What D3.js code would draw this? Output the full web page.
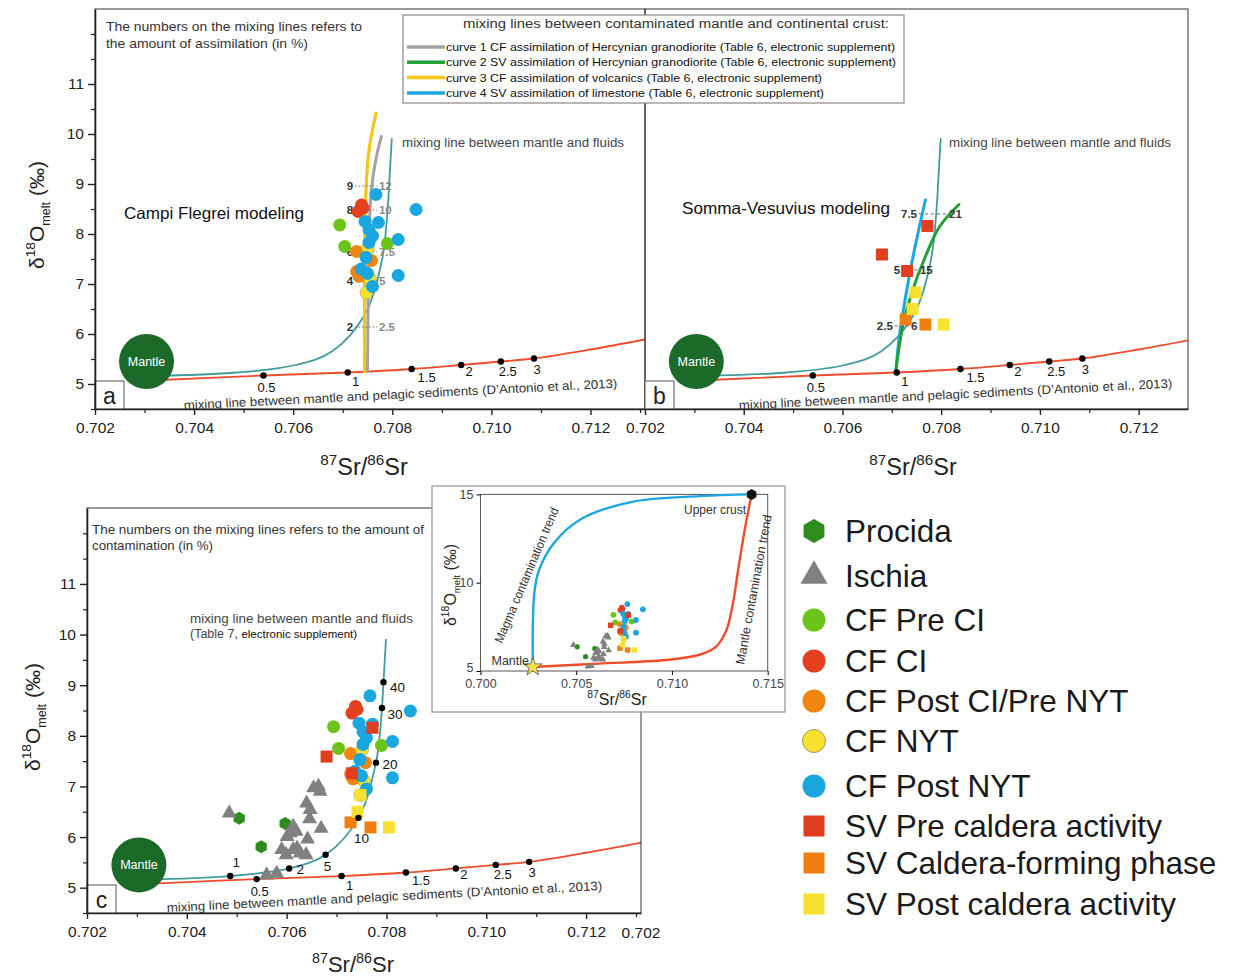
<!DOCTYPE html>
<html>
<head>
<meta charset="utf-8">
<script src="https://cdn.jsdelivr.net/npm/d3@7"></script>
<style>
  body { margin: 0; background: #fff; }
  svg { display: block; font-family: "Liberation Sans", Arial, Helvetica, sans-serif; }
</style>
</head>
<body>
<svg id="fig" width="1236" height="980"></svg>
<script>
// ---------------- data (87Sr/86Sr, δ18O melt ‰) ----------------
const procida = [[0.70505, 6.37], [0.70597, 6.27], [0.70549, 5.81]];
const ischia = [[0.70485, 6.47], [0.70654, 6.97], [0.70664, 7.00], [0.70667, 6.90], [0.70640, 6.67],
  [0.70647, 6.54], [0.70646, 6.36], [0.70669, 6.17], [0.70613, 6.21], [0.70619, 6.11], [0.70607, 6.08],
  [0.70601, 6.01], [0.70642, 5.96], [0.70590, 5.75], [0.70613, 5.75], [0.70621, 5.78], [0.70627, 5.68],
  [0.70639, 5.65], [0.70599, 5.65], [0.70560, 5.25], [0.70580, 5.28]];
const cfPreCI = [[0.70694, 8.18], [0.70704, 7.75], [0.70790, 7.81]];
const cfCI = [[0.70738, 8.58], [0.70731, 8.45], [0.70741, 8.52]];
const cfPostCIPreNYT = [[0.70728, 7.65], [0.70758, 7.47], [0.70728, 7.25], [0.70733, 7.15]];
const cfNYT = [[0.70751, 7.72], [0.70755, 7.11], [0.70748, 6.83]];
const cfPostNYT = [[0.70767, 8.79], [0.70848, 8.49], [0.70745, 8.25], [0.70772, 8.23], [0.70753, 8.08],
  [0.70760, 7.96], [0.70753, 7.83], [0.70812, 7.89], [0.70747, 7.53], [0.70737, 7.30], [0.70750, 7.21],
  [0.70812, 7.17], [0.70760, 6.95]];
const svPreCaldera = [[0.70772, 8.16], [0.70680, 7.59], [0.70731, 7.26]];
const svCalderaForming = [[0.70728, 6.29], [0.70768, 6.19]];
const svPostCaldera = [[0.70748, 6.83], [0.70742, 6.50], [0.70805, 6.19]];

// mantle end-member
const mantle = [0.70304, 5.45];

// mixing line mantle – pelagic sediments, with % marks
const pelagicCurve = [[0.7031, 5.07], [0.70540, 5.17], [0.70710, 5.23], [0.70839, 5.30], [0.70939, 5.38],
  [0.71019, 5.45], [0.71086, 5.51], [0.7120, 5.69], [0.7131, 5.89]];
const pelagicMarks = [[0.70540, 5.17], [0.70710, 5.23], [0.70839, 5.30], [0.70939, 5.38], [0.71019, 5.45], [0.71086, 5.51]];
const pelagicLabels = ["0.5", "1", "1.5", "2", "2.5", "3"];

// mixing line mantle – fluids, with % marks
const fluidCurve = [[0.7031, 5.16], [0.70487, 5.23], [0.70605, 5.38], [0.70678, 5.65], [0.70744, 6.38],
  [0.70779, 7.47], [0.70791, 8.55], [0.70794, 9.06], [0.70799, 9.9]];
const fluidMarks = [[0.70487, 5.23], [0.70605, 5.38], [0.70678, 5.65], [0.70744, 6.38], [0.70779, 7.47], [0.70791, 8.55], [0.70794, 9.06]];
const fluidLabels = ["1", "2", "5", "10", "20", "30", "40"];

// assimilation curves
const curve1Granodiorite = [[0.70750, 5.25], [0.70751, 6.5], [0.70753, 8.0], [0.70758, 8.9], [0.70767, 9.5], [0.70778, 9.95]];
const curve3Volcanics = [[0.70744, 5.24], [0.70744, 7.0], [0.70746, 8.6], [0.70752, 9.6], [0.70767, 10.42]];
const curve4Limestone = [[0.70708, 5.25], [0.70716, 6.01], [0.70729, 6.81], [0.70743, 7.55], [0.70768, 8.68]];
const curve2Granodiorite = [[0.70708, 5.25], [0.70722, 6.15], [0.70740, 6.81], [0.70768, 7.55], [0.70797, 8.15], [0.70836, 8.59]];

// % steps (curve 3 | curve 1)
const cfStepY = [8.96, 8.48, 7.64, 7.06, 6.14];
const cfStepVolcanics = ["9", "8", "6", "4", "2"];
const cfStepGranodiorite = ["12", "10", "7.5", "5", "2.5"];
// % steps (curve 4 | curve 2)
const svStepY = [8.40, 7.28, 6.16];
const svStepLimestone = ["7.5", "5", "2.5"];
const svStepGranodiorite = ["21", "15", "6"];

// inset: global contamination trends
const insetMagmaTrend = [[0.70273, 5.23], [0.70274, 7.9], [0.70282, 9.5], [0.70305, 10.7], [0.70387, 12.29],
  [0.70528, 13.62], [0.70792, 14.58], [0.71144, 14.9], [0.71416, 15.0]];
const insetMantleTrend = [[0.70273, 5.23], [0.70616, 5.42], [0.70968, 5.62], [0.71144, 5.92], [0.71232, 6.4],
  [0.71284, 7.3], [0.71319, 8.86], [0.71346, 10.76], [0.71381, 13.05], [0.71416, 15.0]];
const insetMantle = [0.70273, 5.23];
const insetUpperCrust = [0.71416, 15.0];

// axis ticks
const xMajor = [0.702, 0.704, 0.706, 0.708, 0.710, 0.712];
const xMinor = [0.703, 0.705, 0.707, 0.709, 0.711, 0.713];
const yMajor = [5, 6, 7, 8, 9, 10, 11];
const yMinor = [4.5, 5.5, 6.5, 7.5, 8.5, 9.5, 10.5, 11.5, 12];
const insetXTicks = [0.700, 0.705, 0.710, 0.715];
const insetYTicks = [5, 10, 15];

const curveLegend = [
  "curve 1 CF assimilation of Hercynian granodiorite (Table 6, electronic supplement)",
  "curve 2 SV assimilation of Hercynian granodiorite (Table 6, electronic supplement)",
  "curve 3 CF assimilation of volcanics (Table 6, electronic supplement)",
  "curve 4 SV assimilation of limestone (Table 6, electronic supplement)"
];

// ---------------- styles ----------------
const C = {
  red: "#f04b2b", teal: "#419d9b", gray: "#a3a3a3", gold: "#f7c516",
  green: "#229f36", blue: "#1ca6e0", mantle: "#1b6a2a", ink: "#222"
};
const groups = [
  { name: "Procida", data: procida, shape: "hexagon", fill: "#2e8b1e" },
  { name: "Ischia", data: ischia, shape: "triangle", fill: "#808080" },
  { name: "CF Pre CI", data: cfPreCI, shape: "circle", fill: "#6cc41a" },
  { name: "CF CI", data: cfCI, shape: "circle", fill: "#e4401e" },
  { name: "CF Post CI/Pre NYT", data: cfPostCIPreNYT, shape: "circle", fill: "#f0860f" },
  { name: "CF NYT", data: cfNYT, shape: "circle", fill: "#f6e22e", stroke: "#9a9a70" },
  { name: "CF Post NYT", data: cfPostNYT, shape: "circle", fill: "#1aa6de" },
  { name: "SV Pre caldera activity", data: svPreCaldera, shape: "square", fill: "#e23d1e" },
  { name: "SV Caldera-forming phase", data: svCalderaForming, shape: "square", fill: "#f07f10" },
  { name: "SV Post caldera activity", data: svPostCaldera, shape: "square", fill: "#f6e030" }
];

const svg = d3.select("#fig");

function markerPath(shape, s) {
  if (shape === "circle") return d3.symbol(d3.symbolCircle, Math.PI * (s / 2) * (s / 2))();
  if (shape === "square") return d3.symbol(d3.symbolSquare, s * s)();
  if (shape === "triangle") {
    const h = s * 0.87;
    return `M0,${-h * 2 / 3}L${s / 2},${h / 3}L${-s / 2},${h / 3}Z`;
  }
  const r = s / 2;
  const pts = d3.range(6).map(i => {
    const a = Math.PI / 3 * i - Math.PI / 2;
    return [r * Math.cos(a), r * Math.sin(a)];
  });
  return "M" + pts.map(p => p.join(",")).join("L") + "Z";
}
const markerSize = { circle: 13, square: 12, triangle: 15, hexagon: 13 };

function makePanel(id, left, right, top, bottom, xmax) {
  const x = d3.scaleLinear().domain([0.702, xmax]).range([left, right]);
  const y = d3.scaleLinear().domain([4.5, 12.5]).range([bottom, top]);
  svg.append("clipPath").attr("id", "clip-" + id)
    .append("rect").attr("x", left).attr("y", top).attr("width", right - left).attr("height", bottom - top);
  const g = svg.append("g");
  const inner = g.append("g").attr("clip-path", `url(#clip-${id})`);
  return { id, x, y, left, right, top, bottom, g, inner };
}

function curvePath(p, data) {
  return d3.line().x(d => p.x(d[0])).y(d => p.y(d[1])).curve(d3.curveCatmullRom.alpha(0.5))(data);
}

function drawCurve(p, data, color, width) {
  p.inner.append("path").attr("d", curvePath(p, data)).attr("fill", "none")
    .attr("stroke", color).attr("stroke-width", width).attr("stroke-linecap", "round");
}

function drawMarks(p, pts, labels, offsets, size) {
  const gm = p.inner.append("g");
  gm.selectAll("circle").data(pts).join("circle")
    .attr("cx", d => p.x(d[0])).attr("cy", d => p.y(d[1])).attr("r", 3.2).attr("fill", "#000");
  gm.selectAll("text").data(pts).join("text")
    .attr("x", (d, i) => p.x(d[0]) + offsets[i][0]).attr("y", (d, i) => p.y(d[1]) + offsets[i][1])
    .attr("text-anchor", "middle").attr("dominant-baseline", "central")
    .attr("font-size", size).attr("fill", "#111").text((d, i) => labels[i]);
}

function drawPoints(p, list, scale) {
  list.forEach(gr => {
    p.inner.append("g").selectAll("path").data(gr.data).join("path")
      .attr("d", markerPath(gr.shape, markerSize[gr.shape] * scale))
      .attr("transform", d => `translate(${p.x(d[0])},${p.y(d[1])})`)
      .attr("fill", gr.fill)
      .attr("stroke", gr.stroke || "none").attr("stroke-width", gr.stroke ? 0.6 : 0);
  });
}

function drawMantle(p) {
  p.inner.append("circle").attr("cx", p.x(mantle[0])).attr("cy", p.y(mantle[1])).attr("r", 27.5).attr("fill", C.mantle);
  p.inner.append("text").attr("x", p.x(mantle[0])).attr("y", p.y(mantle[1]))
    .attr("text-anchor", "middle").attr("dominant-baseline", "central")
    .attr("font-size", 12.5).attr("fill", "#fff").text("Mantle");
}

function drawPelagicNote(p, x0, y0, len) {
  p.inner.append("text").attr("x", x0).attr("y", y0)
    .attr("transform", `rotate(-2.9,${x0},${y0})`)
    .attr("font-size", 12.5).attr("fill", "#333")
    .attr("textLength", len).attr("lengthAdjust", "spacingAndGlyphs")
    .text("mixing line between mantle and pelagic sediments (D\u2019Antonio et al., 2013)");
}

function drawFrame(p, letter) {
  p.g.append("rect").attr("x", p.left).attr("y", p.top).attr("width", p.right - p.left).attr("height", p.bottom - p.top)
    .attr("fill", "none").attr("stroke", "#333").attr("stroke-width", 1);
  p.g.append("rect").attr("x", p.left).attr("y", p.bottom - 28).attr("width", 29).attr("height", 28)
    .attr("fill", "#fff").attr("stroke", "#555").attr("stroke-width", 1);
  p.g.append("text").attr("x", p.left + 14.5).attr("y", p.bottom - 13).attr("text-anchor", "middle")
    .attr("dominant-baseline", "central").attr("font-size", 23).attr("fill", "#222").text(letter);
}

function drawXAxis(p) {
  const ax = p.g.append("g").attr("transform", `translate(0,${p.bottom})`)
    .call(d3.axisBottom(p.x).tickValues(xMajor).tickFormat(d3.format(".3f")).tickSize(6).tickSizeOuter(0));
  ax.select(".domain").attr("stroke", "#222").attr("stroke-width", 1.4);
  ax.selectAll(".tick line").attr("stroke", "#222").attr("stroke-width", 1.4);
  ax.selectAll(".tick text").attr("font-size", 15.5).attr("fill", C.ink).attr("font-family", null).attr("y", 13);
  const am = p.g.append("g").attr("transform", `translate(0,${p.bottom})`)
    .call(d3.axisBottom(p.x).tickValues(xMinor.filter(v => p.x(v) <= p.right - 3)).tickFormat("").tickSize(4).tickSizeOuter(0));
  am.select(".domain").remove();
  am.selectAll(".tick line").attr("stroke", "#222").attr("stroke-width", 1.2);
}

function drawYAxis(p) {
  const ay = p.g.append("g").attr("transform", `translate(${p.left},0)`)
    .call(d3.axisLeft(p.y).tickValues(yMajor).tickSize(7).tickSizeOuter(0));
  ay.select(".domain").attr("stroke", "#222").attr("stroke-width", 1.6);
  ay.selectAll(".tick line").attr("stroke", "#222").attr("stroke-width", 1.4);
  ay.selectAll(".tick text").attr("font-size", 15.5).attr("fill", C.ink).attr("font-family", null).attr("x", -11);
  const am = p.g.append("g").attr("transform", `translate(${p.left},0)`)
    .call(d3.axisLeft(p.y).tickValues(yMinor).tickFormat("").tickSize(4).tickSizeOuter(0));
  am.select(".domain").remove();
  am.selectAll(".tick line").attr("stroke", "#222").attr("stroke-width", 1.2);
}

function deltaLabel(sel, size) {
  sel.attr("font-size", size).attr("fill", C.ink);
  sel.append("tspan").text("\u03b4");
  sel.append("tspan").attr("dy", -size * 0.42).attr("font-size", size * 0.65).text("18");
  sel.append("tspan").attr("dy", size * 0.42).text("O");
  sel.append("tspan").attr("dy", size * 0.28).attr("font-size", size * 0.6).text("melt");
  sel.append("tspan").attr("dy", -size * 0.28).text(" (\u2030)");
}
function srLabel(sel, size) {
  sel.attr("font-size", size).attr("fill", C.ink);
  sel.append("tspan").attr("dy", -size * 0.42).attr("font-size", size * 0.65).text("87");
  sel.append("tspan").attr("dy", size * 0.42).text("Sr/");
  sel.append("tspan").attr("dy", -size * 0.42).attr("font-size", size * 0.65).text("86");
  sel.append("tspan").attr("dy", size * 0.42).text("Sr");
}

function stepRows(p, ys, leftLabels, rightLabels, leftX, rightX, rightColor, dash) {
  ys.forEach((v, i) => {
    const lx = Array.isArray(leftX) ? leftX[i] : leftX;
    const rx = Array.isArray(rightX) ? rightX[i] : rightX;
    p.inner.append("line").attr("x1", p.x(lx) + 2).attr("x2", p.x(rx) - 2)
      .attr("y1", p.y(v)).attr("y2", p.y(v)).attr("stroke", "#666").attr("stroke-width", 1)
      .attr("stroke-dasharray", dash);
    p.inner.append("text").attr("x", p.x(lx)).attr("y", p.y(v)).attr("text-anchor", "end")
      .attr("dominant-baseline", "central").attr("font-size", 11.5).attr("font-weight", "bold")
      .attr("fill", "#333").text(leftLabels[i]);
    p.inner.append("text").attr("x", p.x(rx)).attr("y", p.y(v)).attr("text-anchor", "start")
      .attr("dominant-baseline", "central").attr("font-size", 11.5).attr("font-weight", "bold")
      .attr("fill", rightColor).text(rightLabels[i]);
  });
}

function note(g, x, y, txt, size, len, color) {
  const t = g.append("text").attr("x", x).attr("y", y).attr("font-size", size).attr("fill", color || "#333").text(txt);
  if (len) t.attr("textLength", len).attr("lengthAdjust", "spacingAndGlyphs");
  return t;
}

const redOffsets = [[3, 12], [8, 9], [15, 8], [8, 6], [7, 10], [3, 11]];

// ---------------- panel a : Campi Flegrei ----------------
const pa = makePanel("a", 95, 645, 9, 409, 0.7131);
drawCurve(pa, pelagicCurve, C.red, 1.8);
drawCurve(pa, fluidCurve, C.teal, 1.8);
drawCurve(pa, curve1Granodiorite, C.gray, 3);
drawCurve(pa, curve3Volcanics, C.gold, 3.2);
drawMarks(pa, pelagicMarks, pelagicLabels, redOffsets, 13);
stepRows(pa, cfStepY, cfStepVolcanics, cfStepGranodiorite, 0.70721, 0.70773, "#888", "1.5,2");
drawPoints(pa, groups.slice(2, 7), 1);
drawMantle(pa);
drawPelagicNote(pa, 184, 409.5, 434);
note(pa.g, 106, 31, "The numbers on the mixing lines refers to", 13, 256);
note(pa.g, 106, 48, "the amount of assimilation (in %)", 13, 202);
note(pa.g, 124, 219, "Campi Flegrei modeling", 16.5, 180, "#111");
note(pa.g, 402, 147, "mixing line between mantle and fluids", 12.5, 222, "#444");

// ---------------- panel b : Somma-Vesuvius ----------------
const pb = makePanel("b", 645, 1188, 9, 409, 0.7130);
drawCurve(pb, pelagicCurve, C.red, 1.8);
drawCurve(pb, fluidCurve, C.teal, 1.8);
drawCurve(pb, curve4Limestone, C.blue, 3);
drawCurve(pb, curve2Granodiorite, C.green, 3);
drawMarks(pb, pelagicMarks, pelagicLabels, redOffsets, 13);
stepRows(pb, svStepY, svStepLimestone, svStepGranodiorite,
  [0.70751, 0.70717, 0.70702], [0.70816, 0.70757, 0.70739], "#333", "3,3");
drawPoints(pb, groups.slice(7), 1);
drawMantle(pb);
drawPelagicNote(pb, 739, 409.5, 434);
note(pb.g, 682, 214, "Somma-Vesuvius modeling", 16.5, 208, "#111");
note(pb.g, 949, 147, "mixing line between mantle and fluids", 12.5, 222, "#444");

drawFrame(pa, "a");
drawFrame(pb, "b");
drawXAxis(pa);
drawXAxis(pb);
drawYAxis(pa);

svg.append("text").attr("transform", "translate(44,215) rotate(-90)").attr("text-anchor", "middle")
  .call(s => deltaLabel(s, 21));
svg.append("text").attr("x", 364).attr("y", 475).attr("text-anchor", "middle").call(s => srLabel(s, 23.5));
svg.append("text").attr("x", 913).attr("y", 475).attr("text-anchor", "middle").call(s => srLabel(s, 23.5));

// curve legend box
const lg = svg.append("g");
lg.append("rect").attr("x", 403).attr("y", 15).attr("width", 501).attr("height", 88)
  .attr("fill", "#fff").attr("stroke", "#888").attr("stroke-width", 1.2);
note(lg, 463, 28, "mixing lines between contaminated mantle and continental crust:", 12.5, 426, "#333");
const curveColors = [C.gray, C.green, C.gold, C.blue];
const curveWidths = [449, 450, 376, 378];
curveLegend.forEach((t, i) => {
  const yy = 47 + i * 15.3;
  lg.append("line").attr("x1", 407).attr("x2", 445).attr("y1", yy).attr("y2", yy)
    .attr("stroke", curveColors[i]).attr("stroke-width", 3.5);
  lg.append("text").attr("x", 446).attr("y", yy).attr("dominant-baseline", "central")
    .attr("font-size", 11.5).attr("fill", "#111").attr("textLength", curveWidths[i])
    .attr("lengthAdjust", "spacingAndGlyphs").text(t);
});

// ---------------- panel c : all data ----------------
const pc = makePanel("c", 87, 641, 508, 913, 0.7131);
drawCurve(pc, pelagicCurve, C.red, 1.8);
drawCurve(pc, fluidCurve, C.teal, 1.8);
drawPoints(pc, groups, 1);
drawMarks(pc, pelagicMarks, pelagicLabels, redOffsets, 13);
drawMarks(pc, fluidMarks, fluidLabels, [[6, -14], [11, 1], [2, 12], [3, 21], [14, 2], [13, 7], [14, 5]], 13.5);
drawMantle(pc);
drawPelagicNote(pc, 167, 912, 436);
note(pc.g, 92, 534, "The numbers on the mixing lines refers to the amount of", 13, 332);
note(pc.g, 92, 550, "contamination (in %)", 13, 121);
note(pc.g, 190, 623, "mixing line between mantle and fluids", 12.5, 223, "#444");
const t7 = pc.g.append("text").attr("x", 190).attr("y", 638).attr("font-size", 12.5).attr("fill", "#444");
t7.append("tspan").text("(Table 7, ");
t7.append("tspan").attr("fill", "#111").attr("font-size", 11.5).text("electronic supplement)");
drawFrame(pc, "c");
drawXAxis(pc);
drawYAxis(pc);
pc.g.append("text").attr("x", pc.right).attr("y", pc.bottom + 19).attr("text-anchor", "middle")
  .attr("dominant-baseline", "central").attr("font-size", 15.5).attr("fill", C.ink).text("0.702");
svg.append("text").attr("transform", "translate(40,717) rotate(-90)").attr("text-anchor", "middle")
  .call(s => deltaLabel(s, 21));
svg.append("text").attr("x", 353).attr("y", 972).attr("text-anchor", "middle").call(s => srLabel(s, 22));

// ---------------- inset : overall trends ----------------
const ig = svg.append("g");
ig.append("rect").attr("x", 432).attr("y", 486).attr("width", 353).attr("height", 226)
  .attr("fill", "#fff").attr("stroke", "#999").attr("stroke-width", 1.3);
const ix = d3.scaleLinear().domain([0.700, 0.715]).range([480.5, 767.7]);
const iy = d3.scaleLinear().domain([5, 15]).range([671, 494.4]);
const ip = { x: ix, y: iy, inner: ig };
ig.append("rect").attr("x", 480.5).attr("y", 494.4).attr("width", 287.2).attr("height", 176.6)
  .attr("fill", "none").attr("stroke", "#555").attr("stroke-width", 1);
const ixa = ig.append("g").attr("transform", "translate(0,671)")
  .call(d3.axisBottom(ix).tickValues(insetXTicks).tickFormat(d3.format(".3f")).tickSize(4).tickSizeOuter(0));
ixa.select(".domain").remove();
ixa.selectAll(".tick text").attr("font-size", 12.5).attr("fill", "#444").attr("font-family", null).attr("y", 8);
const iya = ig.append("g").attr("transform", "translate(480.5,0)")
  .call(d3.axisLeft(iy).tickValues(insetYTicks).tickSize(4).tickSizeOuter(0));
iya.select(".domain").remove();
iya.selectAll(".tick text").attr("font-size", 12.5).attr("fill", "#444").attr("font-family", null)
  .attr("dy", d => d === 5 ? "0.05em" : "0.32em");
ig.append("path").attr("d", curvePath(ip, insetMagmaTrend)).attr("fill", "none").attr("stroke", C.blue).attr("stroke-width", 2.4);
ig.append("path").attr("d", curvePath(ip, insetMantleTrend)).attr("fill", "none").attr("stroke", C.red).attr("stroke-width", 2.4);
drawPoints(ip, groups, 0.45);
ig.append("path").attr("d", d3.symbol(d3.symbolStar, 110)())
  .attr("transform", `translate(${ix(insetMantle[0])},${iy(insetMantle[1])})`)
  .attr("fill", "#f4e04a").attr("stroke", "#555").attr("stroke-width", 0.8);
ig.append("path").attr("d", markerPath("hexagon", 11))
  .attr("transform", `translate(${ix(insetUpperCrust[0])},${iy(insetUpperCrust[1])})`).attr("fill", "#111");
note(ig, 684, 514, "Upper crust", 12.5, 62, "#333");
ig.append("text").attr("x", 529).attr("y", 665).attr("text-anchor", "end").attr("font-size", 12.5).attr("fill", "#333").text("Mantle");
ig.append("text").attr("transform", "translate(502,644) rotate(-67)").attr("font-size", 12.5)
  .attr("fill", "#333").attr("textLength", 146).attr("lengthAdjust", "spacingAndGlyphs").text("Magma contamination trend");
ig.append("text").attr("transform", "translate(744,665) rotate(-79.5)").attr("font-size", 12.5)
  .attr("fill", "#333").attr("textLength", 152).attr("lengthAdjust", "spacingAndGlyphs").text("Mantle contamination trend");
ig.append("text").attr("transform", "translate(456,585) rotate(-90)").attr("text-anchor", "middle")
  .call(s => deltaLabel(s, 16));
ig.append("text").attr("x", 617).attr("y", 705).attr("text-anchor", "middle").call(s => srLabel(s, 16));

// ---------------- symbol legend ----------------
const legendY = [531, 576, 620, 661, 701, 741, 786, 826, 863, 904];
const legendSize = { circle: 23, square: 21, triangle: 27, hexagon: 24 };
const sl = svg.append("g");
groups.forEach((gr, i) => {
  sl.append("path").attr("d", markerPath(gr.shape, legendSize[gr.shape]))
    .attr("transform", `translate(814,${legendY[i]})`).attr("fill", gr.fill)
    .attr("stroke", gr.stroke || "none").attr("stroke-width", gr.stroke ? 1 : 0);
  sl.append("text").attr("x", 845).attr("y", legendY[i]).attr("dominant-baseline", "central")
    .attr("font-size", 31.5).attr("fill", "#1a1a1a").text(gr.name);
});
</script>
</body>
</html>
